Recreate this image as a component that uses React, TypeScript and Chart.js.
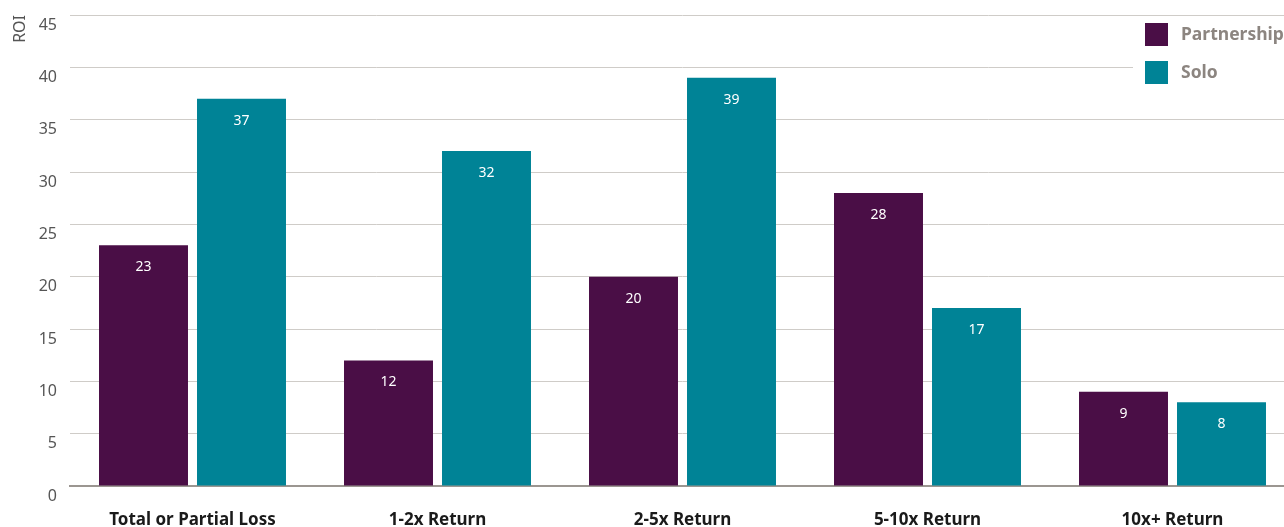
import React, { useEffect, useRef } from "react";
import { Chart, registerables } from "chart.js";

Chart.register(...registerables);

const categories = ["Total or Partial Loss", "1-2x Return", "2-5x Return", "5-10x Return", "10x+ Return"];
const partnership = [23, 12, 20, 28, 9];
const solo = [37, 32, 39, 17, 8];
const seriesNames = ["Partnership", "Solo"];
const colors = ["#4a0e46", "#008396"];
const FONT = "'Noto Sans', Lato, sans-serif";

const valueLabels = {
  id: "valueLabels",
  afterDatasetsDraw(chart: any) {
    const ctx = chart.ctx;
    ctx.save();
    ctx.fillStyle = "#ffffff";
    ctx.font = `14px ${FONT}`;
    ctx.textAlign = "center";
    ctx.textBaseline = "middle";
    chart.data.datasets.forEach((ds: any, i: number) => {
      const meta = chart.getDatasetMeta(i);
      meta.data.forEach((bar: any, j: number) => {
        ctx.fillText(String(ds.data[j]), bar.x, bar.y + 22);
      });
    });
    ctx.restore();
  },
};

const customLegend = {
  id: "customLegend",
  afterDraw(chart: any) {
    const ctx = chart.ctx;
    ctx.save();
    ctx.fillStyle = "#ffffff";
    ctx.fillRect(1133, 18, 170, 80);
    chart.data.datasets.forEach((ds: any, i: number) => {
      const y = 23 + i * 38;
      ctx.fillStyle = ds.backgroundColor;
      ctx.fillRect(1145, y, 23, 23);
      ctx.fillStyle = "#8c8580";
      ctx.font = `bold 17.5px ${FONT}`;
      ctx.textAlign = "left";
      ctx.textBaseline = "middle";
      ctx.fillText(ds.label, 1181, y + 12);
    });
    ctx.restore();
  },
};

export default function App() {
  const ref = useRef<HTMLCanvasElement>(null);
  useEffect(() => {
    document.body.style.margin = "0";
    const chart = new Chart(ref.current!, {
      type: "bar",
      data: {
        labels: categories,
        datasets: [
          { label: seriesNames[0], data: partnership, backgroundColor: colors[0] },
          { label: seriesNames[1], data: solo, backgroundColor: colors[1] },
        ],
      },
      options: {
        animation: false,
        responsive: false,
        layout: { padding: { top: 15, right: 0, left: 0, bottom: 0 } },
        datasets: { bar: { categoryPercentage: 0.8, barPercentage: 0.908 } },
        plugins: { legend: { display: false }, tooltip: { enabled: false } },
        scales: {
          x: {
            grid: { display: false, drawTicks: false },
            border: { display: true, color: "#9b9691", width: 2 },
            ticks: { color: "#1a1a1a", font: { family: FONT, size: 17, weight: "bold" }, padding: 24, maxRotation: 0 },
            afterFit: (s: any) => { s.height = 41; s.paddingLeft = 0; s.paddingRight = 0; },
          },
          y: {
            min: 0,
            max: 45,
            ticks: { stepSize: 5, color: "#555555", font: { family: FONT, size: 16 }, padding: 13, labelOffset: 10 },
            grid: { color: "#cfccc8", drawTicks: false },
            border: { display: false },
            title: { display: true, text: "ROI", align: "end", color: "#555555", font: { family: FONT, size: 16 }, padding: { top: 11, bottom: 0 } },
            afterFit: (s: any) => { s.width = 70; s.paddingTop = 0; s.paddingBottom = 0; },
          },
        },
      },
      plugins: [valueLabels, customLegend],
    });
    return () => chart.destroy();
  }, []);
  return (
    <div style={{ width: 1284, height: 527, overflow: "hidden" }}>
      <canvas ref={ref} width={1295} height={527} style={{ display: "block" }} />
    </div>
  );
}
